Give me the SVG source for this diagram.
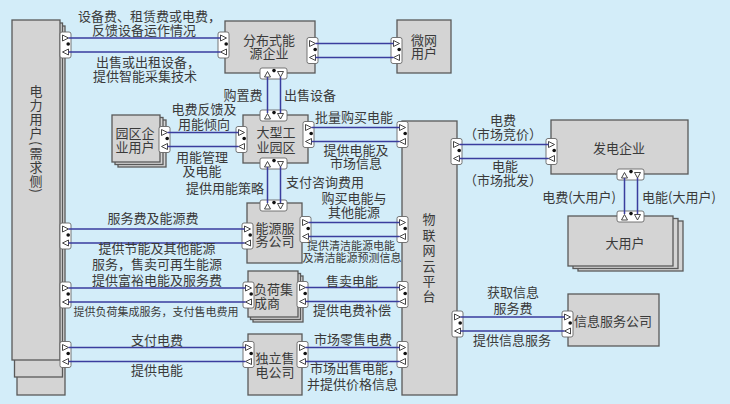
<svg xmlns="http://www.w3.org/2000/svg" xmlns:xlink="http://www.w3.org/1999/xlink" width="730" height="404" viewBox="0 0 730 404">
<style>
.bg{fill:#d3edf9}
.box{fill:#d4d4d4;stroke:#595959;stroke-width:1.3}
.port{fill:#ffffff;stroke:#666;stroke-width:0.9}
.tri{fill:#ffffff;stroke:#333;stroke-width:0.9}
.dot{fill:#111}
.ln{stroke:#3a3d9e;stroke-width:1.5;fill:none}
text{font-family:"Noto Sans CJK SC","Noto Sans",sans-serif;font-size:13px;fill:#3a3a3a;text-anchor:middle}
.s{font-size:11px}
.st{text-anchor:start}
.en{text-anchor:end}
.v{writing-mode:vertical-rl;text-anchor:start}
</style>
<defs>
<g id="vp"><rect class="port" x="0" y="0" width="11" height="26" rx="2"/><polygon class="tri" points="2.5,3 8.5,6 2.5,9"/><polygon class="tri" points="8.5,17 2.5,20 8.5,23"/><circle class="dot" cx="8.2" cy="12" r="1.8"/></g>
<g id="hp"><rect class="port" x="0" y="0" width="27" height="11" rx="2"/><polygon class="tri" points="4.5,9 7.5,3.5 10.5,9"/><polygon class="tri" points="17.5,3.5 23.5,3.5 20.5,9"/><circle class="dot" cx="14" cy="2.6" r="1.8"/></g>
</defs>
<rect class="bg" x="0" y="0" width="730" height="404"/>

<g id="power-users">
<rect class="box" x="17" y="26" width="48" height="369"/>
<rect class="box" x="14.5" y="23" width="48" height="354"/>
<rect class="box" x="12" y="20" width="48" height="340"/>
<text class="v" x="36" y="85" letter-spacing="1">电力用户(需求侧)</text>
<use xlink:href="#vp" x="60" y="32"/>
<use xlink:href="#vp" x="60" y="223"/>
<use xlink:href="#vp" x="60" y="282"/>
<use xlink:href="#vp" x="60" y="341.5"/>
</g>

<g id="distributed">
<rect class="box" x="225" y="21" width="90" height="52"/>
<text x="269" y="44.5">分布式能<tspan x="269" dy="13.5">源企业</tspan></text>
<use xlink:href="#vp" x="218" y="32"/>
<use xlink:href="#vp" x="307" y="37.5"/>
<use xlink:href="#hp" x="260" y="68"/>
</g>

<g id="microgrid">
<rect class="box" x="397" y="20" width="54" height="53"/>
<text x="424" y="44.5">微网<tspan x="424" dy="13">用户</tspan></text>
<use xlink:href="#vp" x="391" y="37.5"/>
</g>

<g id="park-users">
<rect class="box" x="118" y="120" width="48" height="47"/>
<rect class="box" x="115" y="117.5" width="48" height="47"/>
<rect class="box" x="112" y="115" width="48" height="47"/>
<text x="135" y="137.5">园区企<tspan x="135" dy="14">业用户</tspan></text>
<use xlink:href="#vp" x="159" y="126.5"/>
</g>

<g id="industrial-park">
<rect class="box" x="243" y="115" width="65" height="48"/>
<text x="276" y="136.5">大型工<tspan x="276" dy="15">业园区</tspan></text>
<use xlink:href="#hp" x="260" y="110"/>
<use xlink:href="#hp" x="260" y="158"/>
<use xlink:href="#vp" x="236" y="126.5"/>
<use xlink:href="#vp" x="303" y="121.5"/>
</g>

<g id="energy-service">
<rect class="box" x="247" y="203" width="55" height="60"/>
<text x="275" y="232.5">能源服<tspan x="275" dy="13">务公司</tspan></text>
<use xlink:href="#hp" x="260" y="200"/>
<use xlink:href="#vp" x="242" y="223"/>
<use xlink:href="#vp" x="300" y="216.5"/>
</g>

<g id="load-aggregator">
<rect class="box" x="253" y="276" width="50" height="46"/>
<rect class="box" x="250.5" y="273.5" width="50" height="46"/>
<rect class="box" x="248" y="271" width="50" height="46"/>
<text class="st" x="254" y="293.5">负荷集<tspan x="254" dy="14">成商</tspan></text>
<use xlink:href="#vp" x="243" y="282"/>
<use xlink:href="#vp" x="297" y="281.5"/>
</g>

<g id="retailer">
<rect class="box" x="248" y="334" width="54" height="61"/>
<text x="275" y="362.5">独立售<tspan x="275" dy="14">电公司</tspan></text>
<use xlink:href="#vp" x="243" y="341.5"/>
<use xlink:href="#vp" x="297" y="341.5"/>
</g>

<g id="iot-platform">
<rect class="box" x="402" y="121" width="55" height="274"/>
<text class="v" x="429" y="213" letter-spacing="2.4">物联网云平台</text>
<use xlink:href="#vp" x="397" y="121.5"/>
<use xlink:href="#vp" x="397" y="216.5"/>
<use xlink:href="#vp" x="397" y="281.5"/>
<use xlink:href="#vp" x="397" y="341.5"/>
<use xlink:href="#vp" x="451" y="138.5"/>
<use xlink:href="#vp" x="452" y="311"/>
</g>

<g id="generator">
<rect class="box" x="551" y="120" width="137" height="54"/>
<text x="619" y="152.5">发电企业</text>
<use xlink:href="#vp" x="546" y="138.5"/>
<use xlink:href="#hp" x="617" y="169"/>
</g>

<g id="large-users">
<rect class="box" x="578" y="221" width="105" height="50"/>
<rect class="box" x="573" y="218.5" width="105" height="50"/>
<rect class="box" x="568" y="216" width="105" height="50"/>
<text x="625" y="247.5">大用户</text>
<use xlink:href="#hp" x="617" y="211"/>
</g>

<g id="info-service">
<rect class="box" x="568" y="294" width="91" height="52"/>
<text x="613" y="325.5">信息服务公司</text>
<use xlink:href="#vp" x="562" y="311"/>
</g>

<g id="connectors">
<path class="ln" d="M68.5 38H220.5M68.5 52H220.5"/>
<path class="ln" d="M315.5 43.5H393.5M315.5 57.5H393.5"/>
<path class="ln" d="M167.5 132.5H238.5M167.5 146.5H238.5"/>
<path class="ln" d="M311.5 127.5H399.5M311.5 141.5H399.5"/>
<path class="ln" d="M68.5 229H244.5M68.5 243H244.5"/>
<path class="ln" d="M308.5 222.5H399.5M308.5 236.5H399.5"/>
<path class="ln" d="M68.5 288H245.5M68.5 302H245.5"/>
<path class="ln" d="M305.5 287.5H399.5M305.5 301.5H399.5"/>
<path class="ln" d="M68.5 347.5H245.5M68.5 361.5H245.5"/>
<path class="ln" d="M305.5 347.5H399.5M305.5 361.5H399.5"/>
<path class="ln" d="M459.5 144.5H548.5M459.5 158.5H548.5"/>
<path class="ln" d="M460.5 317H564.5M460.5 331H564.5"/>
<path class="ln" d="M267.5 77V113M280.5 77V113"/>
<path class="ln" d="M267.5 167V203M280.5 167V203"/>
<path class="ln" d="M624.5 178V214M637.5 178V214"/>
</g>

<g id="labels">
<text class="st" x="78" y="20.5">设备费、租赁费或电费，</text>
<text x="144" y="34.5">反馈设备运作情况</text>
<text class="st" x="96" y="66.5">出售或出租设备，</text>
<text x="145" y="80.5">提供智能采集技术</text>
<text x="243" y="99.5">购置费</text>
<text x="310" y="99.5">出售设备</text>
<text x="204" y="113.5">电费反馈及<tspan x="204" dy="15">用能倾向</tspan></text>
<text x="202" y="161.5">用能管理<tspan x="202" dy="14">及电能</tspan></text>
<text x="225" y="192.5">提供用能策略</text>
<text x="325" y="186.5">支付咨询费用</text>
<text x="354" y="121.5">批量购买电能</text>
<text x="356" y="154.5">提供电能及<tspan x="356" dy="13">市场信息</tspan></text>
<text x="503" y="124.5">电费<tspan x="503" dy="14">（市场竞价）</tspan></text>
<text x="505" y="170.5">电能<tspan x="503" dy="14">（市场批发）</tspan></text>
<text class="en" x="616" y="201.5">电费(大用户)</text>
<text class="st" x="642" y="201.5">电能(大用户)</text>
<text x="153" y="222.5">服务费及能源费</text>
<text x="157" y="252.5">提供节能及其他能源<tspan x="157" dy="16">服务，售卖可再生能源</tspan></text>
<text x="157" y="284.5">提供富裕电能及服务费</text>
<text class="s" x="156" y="316">提供负荷集成服务，支付售电费用</text>
<text x="157" y="344.5">支付电费</text>
<text x="157" y="374.5">提供电能</text>
<text x="354" y="202.5">购买电能与<tspan x="354" dy="14">其他能源</tspan></text>
<text class="s" x="351" y="249.5">提供清洁能源电能<tspan x="352" dy="12.5">及清洁能源预测信息</tspan></text>
<text x="352" y="285.5">售卖电能</text>
<text x="352" y="314.5">提供电费补偿</text>
<text x="353" y="343.5">市场零售电费</text>
<text class="st" x="310" y="372.5">市场出售电能，<tspan x="307" dy="16">并提供价格信息</tspan></text>
<text x="513" y="296.5">获取信息<tspan x="513" dy="16">服务费</tspan></text>
<text x="512" y="344.5">提供信息服务</text>
</g>
</svg>
